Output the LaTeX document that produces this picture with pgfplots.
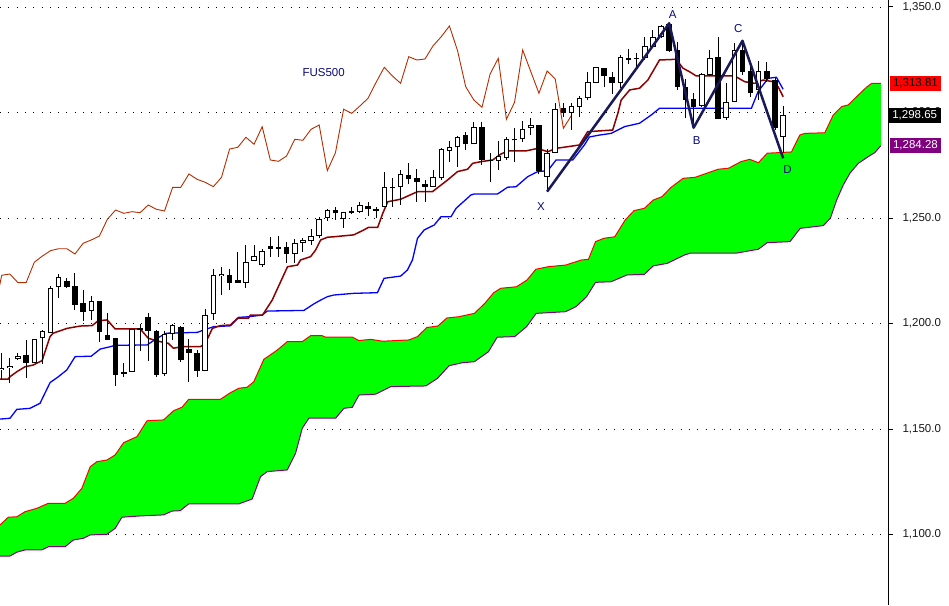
\documentclass[border=0pt]{standalone}
\usepackage{fontspec}
\setmainfont{Liberation Sans}
\usepackage{pgfplots}
\pgfplotsset{compat=1.18}
\usepackage{pgfplotstable}
\usepgfplotslibrary{fillbetween}

\definecolor{tenkan}{RGB}{140,0,0}
\definecolor{kijun}{RGB}{0,0,255}
\definecolor{chikou}{RGB}{180,45,0}
\definecolor{cloud}{RGB}{0,255,0}
\definecolor{spanA}{RGB}{255,0,0}
\definecolor{spanB}{RGB}{128,0,128}
\definecolor{patt}{RGB}{25,25,90}
\definecolor{lbl}{RGB}{10,10,120}

% hollow (rising) candles: index open high low close
\pgfplotstableread{
i o h l c
0 1178.0 1186.2 1173.6 1179.1
1 1178.9 1183.5 1171.7 1179.9
2 1183.0 1186.2 1182.7 1184.6
4 1181.1 1192.5 1181.1 1192.5
5 1193.0 1196.9 1181.0 1196.5
6 1195.6 1217.8 1195.4 1216.7
7 1217.2 1223.5 1212.2 1221.9
11 1206.1 1213.0 1201.7 1210.7
16 1177.2 1197.5 1177.2 1197.5
20 1176.1 1196.5 1175.1 1194.9
21 1194.9 1199.6 1192.2 1199.2
25 1177.6 1206.7 1177.5 1203.9
26 1204.4 1226.0 1201.7 1222.9
27 1222.5 1226.6 1213.4 1223.5
30 1219.3 1237.2 1217.0 1229.0
31 1229.6 1237.2 1229.6 1232.0
32 1227.6 1235.2 1226.9 1234.5
36 1232.8 1239.9 1228.5 1238.0
37 1238.3 1240.4 1234.0 1239.6
38 1239.3 1244.8 1237.2 1241.5
39 1241.5 1250.6 1240.4 1249.5
40 1249.9 1254.1 1248.7 1253.8
42 1249.5 1253.0 1245.4 1253.0
44 1253.0 1257.4 1252.5 1256.2
47 1255.4 1272.0 1255.4 1264.6
48 1264.1 1269.1 1255.4 1264.6
49 1264.6 1272.8 1256.2 1270.9
53 1264.8 1272.8 1264.6 1269.3
54 1268.8 1283.0 1268.0 1282.7
55 1281.9 1286.6 1276.4 1283.5
56 1283.5 1288.9 1274.3 1288.3
58 1284.9 1295.6 1284.9 1293.3
61 1277.0 1286.6 1272.8 1279.4
62 1278.6 1288.5 1277.5 1287.3
64 1287.3 1295.8 1286.2 1292.0
65 1292.5 1297.3 1289.3 1294.1
67 1269.3 1282.6 1262.5 1281.0
68 1281.0 1304.7 1281.0 1301.5
70 1299.9 1304.7 1291.7 1303.1
71 1302.8 1307.8 1297.7 1306.7
72 1306.7 1319.3 1305.7 1314.4
73 1314.1 1321.7 1313.8 1321.4
76 1314.1 1327.3 1311.5 1326.5
79 1325.7 1335.6 1324.9 1331.7
80 1331.2 1339.1 1330.6 1335.9
81 1335.9 1341.5 1335.3 1341.0
86 1303.1 1318.9 1302.6 1318.3
87 1317.8 1329.6 1317.3 1325.7
89 1297.3 1313.8 1296.5 1304.8
90 1305.1 1333.1 1305.0 1329.6
93 1310.7 1324.6 1305.9 1319.7
96 1288.3 1303.1 1280.8 1298.65
}\upc

% filled (falling) candles
\pgfplotstableread{
i o h l c
3 1184.9 1192.2 1174.0 1181.1
8 1220.2 1221.7 1216.8 1217.4
9 1217.8 1224.1 1206.4 1208.8
10 1209.6 1215.9 1201.3 1205.6
12 1210.7 1210.7 1191.4 1196.1
13 1194.6 1204.8 1192.2 1192.2
14 1193.3 1193.3 1170.5 1175.6
15 1177.0 1181.1 1174.8 1176.2
17 1197.9 1199.6 1187.1 1196.9
18 1202.9 1205.1 1182.4 1196.6
19 1196.5 1196.9 1174.8 1175.6
22 1198.5 1198.8 1181.9 1182.7
23 1188.1 1192.8 1172.1 1186.0
24 1185.9 1187.4 1174.8 1177.6
28 1223.0 1225.7 1215.9 1219.3
29 1220.6 1234.0 1219.1 1219.3
33 1236.7 1240.9 1231.7 1235.5
34 1236.1 1241.5 1231.4 1235.5
35 1236.4 1238.8 1228.5 1232.9
41 1253.8 1255.4 1249.1 1252.2
43 1253.3 1255.4 1251.8 1252.5
45 1255.7 1257.7 1251.0 1254.1
46 1254.1 1255.1 1249.9 1253.3
50 1270.4 1275.9 1266.0 1268.3
51 1268.8 1273.1 1257.7 1266.9
52 1266.0 1268.0 1257.7 1264.8
57 1289.3 1290.9 1282.2 1284.9
59 1293.0 1295.6 1275.1 1277.5
60 1277.5 1280.7 1267.2 1276.9
63 1287.4 1292.5 1276.7 1286.8
66 1294.1 1294.1 1270.7 1272.4
69 1302.0 1304.4 1298.0 1299.6
74 1321.0 1321.2 1312.2 1317.3
75 1317.0 1319.3 1308.8 1313.8
77 1325.7 1330.0 1323.0 1324.9
78 1326.0 1328.1 1321.0 1325.4
82 1342.0 1342.6 1328.8 1329.3
83 1329.6 1333.6 1310.7 1312.2
84 1312.0 1315.7 1297.3 1305.9
85 1306.4 1309.1 1293.3 1302.5
88 1326.2 1335.9 1296.8 1296.8
91 1329.6 1334.4 1317.8 1319.3
92 1319.8 1324.1 1307.4 1309.1
94 1319.7 1324.1 1314.5 1315.9
95 1315.4 1316.2 1291.7 1292.5
}\dnc

\newcommand{\lblfont}{\fontsize{11.5}{13}\selectfont}

\pgfplotsset{
  candle/.style 2 args={draw=none, mark=none, forget plot,
    error bars/.cd, y dir=plus, y explicit, error mark=none,
    error bar style={draw=#1, line width=#2}},
}

\begin{document}
\begin{tikzpicture}
\begin{axis}[
  at={(0pt,0pt)}, anchor=south west,
  width=888pt, height=605pt, scale only axis,
  xmin=-0.21, xmax=108.88, ymin=1066.59, ymax=1353.32,
  axis x line=none, axis y line*=right,
  ytick={1100,1150,1200,1250,1300,1350},
  scaled y ticks=false,
  tick align=outside, major tick length=5pt,
  ymajorgrids,
  grid style={black, line width=0.9pt, dash pattern=on 0.9pt off 7.4pt},
  axis line style={line width=1pt, black},
  every tick/.style={black, line width=1pt},
  yticklabel style={font=\lblfont, text=black!90, xshift=6pt,
    /pgf/number format/.cd, fixed, fixed zerofill, precision=1, 1000 sep={,}, assume math mode=true},
  set layers,
  clip=false,
]
% Ichimoku cloud (Senkou span A / B)
\addplot[name path=spa, draw=spanA, line width=1pt] coordinates {
(-0.21,1104.5)(0.81,1108.2)(1.85,1108.4)(2.87,1110.8)(4.31,1112.4)(5.74,1114.8)(7.79,1114.8)
(8.81,1117.2)(9.85,1121.9)(10.87,1132.1)(11.69,1134.5)(12.92,1135.3)(13.94,1137.7)(14.97,1143.5)
(16.62,1146.4)(17.85,1153.9)(19.89,1154.3)(21.12,1158.7)(22.15,1160.3)(22.97,1164.1)(26.87,1164.1)
(28.1,1167.2)(29.12,1169.3)(30.15,1169.8)(30.97,1172.4)(32.2,1183.0)(33.85,1187.4)(35.08,1191.4)
(36.92,1191.4)(37.94,1194.2)(39.38,1194.2)(39.79,1193.5)(43.08,1193.5)(43.89,1191.9)(45.33,1192.5)
(46.77,1191.6)(50.04,1192.2)(51.08,1193.8)(52.22,1198.1)(53.58,1198.8)(54.68,1202.6)(56.14,1203.2)
(58.07,1204.8)(59.36,1209.6)(60.44,1214.6)(61.31,1216.7)(63.24,1217.4)(64.53,1220.6)(65.62,1225.7)
(67.12,1226.9)(69.28,1227.7)(71.22,1230.1)(72.08,1230.4)(72.95,1238.8)(74.0,1240.4)(75.31,1241.1)
(76.6,1249.1)(77.68,1253.5)(78.95,1254.6)(80.04,1258.5)(81.12,1260.1)(82.19,1264.4)(83.7,1268.8)
(85.2,1269.3)(88.01,1273.1)(89.3,1273.6)(90.81,1276.7)(91.89,1277.8)(92.96,1276.2)(94.04,1280.7)
(97.02,1281.3)(98.04,1289.3)(98.66,1290.1)(101.12,1290.4)(102.15,1298.8)(103.18,1302.8)(104.0,1303.6)
(104.81,1306.7)(106.25,1312.0)(106.86,1313.8)(108.0,1313.8)
};
\addplot[name path=spb, draw=spanB, line width=1pt] coordinates {
(-0.21,1089.8)(1.02,1089.8)(1.85,1091.6)(2.87,1092.7)(4.92,1092.7)(5.74,1094.2)(7.79,1094.2)
(8.81,1097.4)(10.04,1098.2)(10.87,1099.8)(12.92,1100.1)(13.94,1102.9)(14.77,1108.2)(17.02,1108.8)
(19.89,1109.3)(20.92,1111.1)(21.94,1111.3)(22.97,1114.5)(29.12,1114.5)(30.77,1116.8)(31.79,1127.4)
(32.62,1129.8)(35.08,1130.6)(36.1,1138.5)(36.92,1150.3)(37.74,1155.1)(41.02,1155.1)(42.04,1159.8)
(43.08,1160.3)(43.89,1166.1)(45.94,1166.5)(47.79,1170.1)(52.1,1170.4)(53.54,1174.0)(54.97,1180.0)
(56.57,1181.4)(58.07,1181.9)(59.79,1186.6)(60.87,1193.5)(63.03,1193.8)(64.48,1198.5)(65.66,1204.8)
(69.28,1205.6)(70.56,1208.0)(71.85,1212.7)(72.95,1219.5)(74.87,1219.8)(76.82,1223.0)(78.95,1223.3)
(80.04,1227.3)(81.76,1228.5)(83.91,1232.5)(84.57,1233.3)(90.17,1233.3)(92.96,1235.2)(94.04,1238.3)
(96.84,1238.8)(98.1,1245.1)(100.94,1246.4)(101.8,1249.9)(102.57,1258.5)(103.38,1265.6)(104.2,1271.2)
(105.23,1275.9)(106.46,1279.1)(107.27,1281.0)(108.0,1284.3)
};
\addplot[cloud] fill between[of=spa and spb];

% Chikou span (close shifted back 26 bars)
\addplot[chikou, line width=0.9pt] coordinates {
(-1,1203.89)(0,1222.85)(1,1223.46)(2,1219.34)(3,1219.34)(4,1229.01)(5,1231.99)(6,1234.51)
(7,1235.45)(8,1235.45)(9,1232.94)(10,1238.01)(11,1239.58)(12,1241.47)(13,1249.53)(14,1253.79)
(15,1252.23)(16,1252.99)(17,1252.52)(18,1256.16)(19,1254.13)(20,1253.32)(21,1264.55)(22,1264.55)
(23,1270.86)(24,1268.34)(25,1266.92)(26,1264.84)(27,1269.29)(28,1282.70)(29,1283.51)(30,1288.25)
(31,1284.93)(32,1293.27)(33,1277.49)(34,1276.87)(35,1279.39)(36,1287.30)(37,1286.83)(38,1292.04)
(39,1294.08)(40,1272.42)(41,1280.95)(42,1301.52)(43,1299.62)(44,1303.08)(45,1306.73)(46,1314.36)
(47,1321.42)(48,1317.30)(49,1313.84)(50,1326.45)(51,1324.88)(52,1325.36)(53,1331.66)(54,1335.93)
(55,1341.00)(56,1329.29)(57,1312.23)(58,1305.93)(59,1302.47)(60,1318.25)(61,1325.69)(62,1296.78)
(63,1304.84)(64,1329.62)(65,1319.34)(66,1309.10)(67,1319.67)(68,1315.88)(69,1292.52)(70,1298.65)
};

% Kijun sen
\addplot[kijun, line width=1.3pt] coordinates {
(-0.21,1154.7)(1.02,1155.1)(1.85,1159.3)(3.48,1159.8)(4.71,1162.2)(5.94,1172.0)(6.97,1174.8)
(8.0,1178.0)(9.02,1184.3)(10.99,1184.5)(12.1,1187.9)(13.33,1189.0)(13.94,1189.7)(17.85,1189.8)
(19.08,1193.0)(20.22,1195.4)(24.04,1195.8)(25.02,1197.2)(26.04,1198.5)(28.1,1198.9)(29.12,1202.9)
(30.35,1203.2)(32.0,1204.0)(32.62,1205.9)(37.12,1206.2)(38.35,1209.3)(39.18,1211.1)(40.0,1212.7)
(40.81,1213.5)(43.27,1214.3)(46.15,1214.6)(46.97,1221.4)(49.02,1222.5)(49.85,1225.4)(50.46,1230.1)
(51.08,1240.4)(51.89,1244.3)(53.14,1246.7)(53.96,1250.6)(55.19,1250.6)(55.82,1254.6)(57.64,1260.9)
(58.05,1261.4)(60.92,1261.4)(62.15,1264.6)(63.18,1264.8)(64.62,1269.6)(65.85,1272.0)(67.08,1272.4)
(68.1,1277.5)(70.15,1277.5)(71.58,1284.6)(72.2,1288.4)(73.43,1289.3)(74.87,1290.1)(76.51,1293.3)
(78.35,1294.9)(79.79,1298.8)(80.81,1302.0)(92.1,1302.0)(92.92,1309.9)(94.15,1316.2)(95.17,1316.7)
(96.0,1311.0)
};

% Tenkan sen
\addplot[tenkan, line width=1.5pt] coordinates {
(-0.21,1173.6)(0.78,1173.6)(1.02,1174.8)(1.88,1177.2)(2.87,1179.5)(3.85,1180.3)(4.96,1182.4)
(5.94,1193.8)(6.31,1195.4)(8.04,1197.7)(9.64,1198.8)(11.11,1199.0)(11.85,1201.3)(12.96,1201.7)
(13.94,1197.4)(17.02,1197.4)(18.01,1193.0)(19.11,1191.7)(20.47,1190.6)(21.08,1188.3)(22.19,1189.0)
(24.41,1189.0)(25.02,1190.6)(25.88,1197.7)(26.87,1199.0)(28.1,1199.3)(28.96,1202.5)(30.31,1202.5)
(30.56,1204.0)(32.04,1204.0)(33.23,1211.1)(35.11,1226.9)(36.34,1227.7)(36.71,1230.1)(37.95,1231.7)
(38.56,1234.8)(39.18,1239.6)(40.04,1240.9)(40.78,1241.1)(43.24,1242.0)(44.47,1244.3)(45.08,1245.6)
(46.19,1245.6)(46.81,1252.2)(47.42,1257.7)(49.02,1258.9)(50.62,1261.7)(51.11,1262.5)(52.92,1262.5)
(54.77,1268.0)(56.0,1272.0)(57.23,1273.1)(57.85,1275.9)(58.87,1276.7)(60.31,1277.5)(61.33,1280.3)
(62.15,1281.8)(64.41,1281.8)(65.85,1283.0)(67.08,1281.4)(68.1,1283.0)(69.0,1283.5)(70.97,1284.6)
(71.98,1290.9)(75.06,1291.7)(75.69,1299.6)(76.1,1305.9)(77.15,1310.7)(78.35,1311.5)(79.38,1315.4)
(80.81,1324.9)(82.87,1325.2)(83.69,1321.0)(84.5,1319.3)(85.33,1317.3)(90.04,1317.3)(91.27,1314.6)
(92.5,1313.8)(93.54,1315.4)(94.77,1314.6)(95.38,1312.2)(96.0,1307.5)
};

% candle wicks
\addplot[candle={black}{1pt}]
  table[x=i, y=l, y error plus expr=\thisrow{h}-\thisrow{l}] {\upc};
\addplot[candle={black}{1pt}]
  table[x=i, y=l, y error plus expr=\thisrow{h}-\thisrow{l}] {\dnc};
% candle bodies
\addplot[candle={black}{5.5pt}]
  table[x=i, y=o, y error plus expr=\thisrow{c}-\thisrow{o}] {\upc};
\addplot[candle={black}{5.5pt}]
  table[x=i, y=c, y error plus expr=\thisrow{o}-\thisrow{c}] {\dnc};
\addplot[candle={white}{3.5pt}]
  table[x=i, y expr=\thisrow{o}+0.47, y error plus expr={max(\thisrow{c}-\thisrow{o}-0.95,0)}] {\upc};

% XABCD pattern
\addplot[patt, line width=2.5pt, line join=round] coordinates {
(67,1262.5)(82,1342.3)(85,1292.8)(91,1334.0)(96,1278.3)
};

\node[text=lbl, font=\lblfont] at (axis cs:66.25,1255.45) {X};
\node[text=lbl, font=\lblfont] at (axis cs:82.44,1346.21) {A};
\node[text=lbl, font=\lblfont] at (axis cs:85.39,1286.49) {B};
\node[text=lbl, font=\lblfont] at (axis cs:90.5,1339.58) {C};
\node[text=lbl, font=\lblfont] at (axis cs:96.53,1272.75) {D};
\node[text=lbl, font=\lblfont] at (axis cs:39.55,1318.96) {FUS500};

% price boxes on the right scale
\node[fill=spanA, text=black, anchor=west, minimum width=51.5pt, minimum height=14.5pt, inner sep=0pt, xshift=1.5pt, font=\lblfont] at (axis cs:108.88,1313.81) {1,313.81};
\node[fill=black, text=white, anchor=west, minimum width=52pt, minimum height=14.5pt, inner sep=0pt, xshift=0.5pt, font=\lblfont] at (axis cs:108.88,1298.65) {1,298.65};
\node[fill=spanB, text=white, anchor=west, minimum width=51.5pt, minimum height=14.5pt, inner sep=0pt, xshift=1.5pt, font=\lblfont] at (axis cs:108.88,1284.28) {1,284.28};
\end{axis}
\pgfresetboundingbox
\path (0,0) rectangle (949pt,605pt);
\end{tikzpicture}
\end{document}
